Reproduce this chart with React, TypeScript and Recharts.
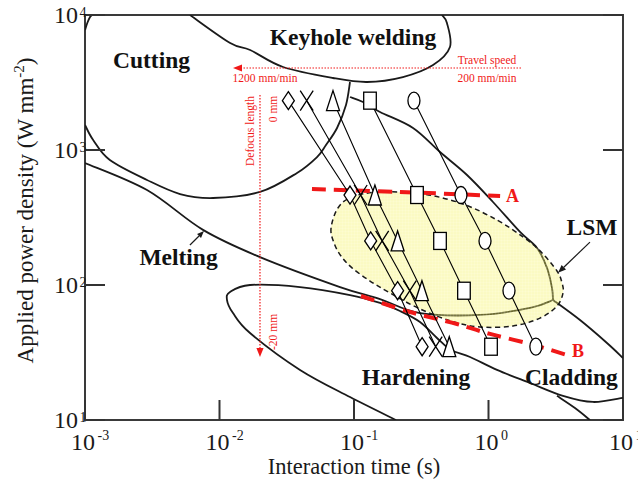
import React from "react";
import { ScatterChart, Scatter, XAxis, YAxis, ReferenceArea } from "recharts";

const SERIF = "'Liberation Serif', 'Times New Roman', Times, serif";
const INK = "#1a1a1a";
const RED = "#f01818";

// axis ticks (log decades)
const xTicks = [0.001, 0.01, 0.1, 1, 10];
const yTicks = [10, 100, 1000, 10000];

// measured points, rows = defocus 0 mm ... -20 mm
const powerDensity = [2320, 464, 212, 90.7, 34.9];
const diamondTime = [0.0325, 0.0934, 0.133, 0.211, 0.321];
const crossTime = [0.0445, 0.112, 0.162, 0.26, 0.405];
const triangleTime = [0.0698, 0.143, 0.211, 0.32, 0.511];
const squareTime = [0.1315, 0.294, 0.436, 0.657, 1.044];
const circleTime = [0.279, 0.624, 0.942, 1.42, 2.25];

type XY = [number, number];

// process region boundaries, [time, power density]
const keyholeBoundary: XY[] = [
  [0.00603, 10000], [0.012, 6203], [0.0169, 5503], [0.0297, 4119], [0.0698, 3415],
  [0.125, 3190], [0.231, 3473], [0.387, 4262], [0.517, 5794], [0.491, 8726], [0.451, 10000],
];
const cuttingBoundary: XY[] = [
  [0.001, 1532], [0.00115, 1186], [0.00153, 843], [0.00289, 600], [0.00509, 472],
  [0.00895, 441], [0.02, 489], [0.0377, 676], [0.0531, 887], [0.0619, 1089],
  [0.0748, 1456], [0.0872, 2154], [0.0934, 3190],
];
const cornerArc: XY[] = [[0.001, 7743], [0.00104, 8726], [0.00109, 9665], [0.00113, 10000]];
const meltingUpper: XY[] = [
  [0.0934, 2469], [0.1167, 2266], [0.1561, 1912], [0.2747, 1456], [0.436, 966],
  [0.692, 653], [1.08, 412], [1.715, 247], [2.294, 188], [2.722, 134], [2.966, 95], [3.017, 77.4],
];
const meltingLower: XY[] = [
  [3.017, 77.4], [2.035, 67.6], [0.865, 60.0], [0.3095, 62.0], [0.1561, 78.7],
  [0.0787, 96.6], [0.02, 161], [0.00754, 256], [0.00289, 505], [0.001, 801],
];
const claddingUpper: XY[] = [[3.017, 77.4], [4.79, 55.0], [7.6, 37.2], [10, 28.8]];
const hardeningBoundary: XY[] = [
  [0.2053, 10], [0.0934, 14.8], [0.0397, 23.5], [0.01686, 44.1], [0.0126, 62.0],
  [0.01137, 77.4], [0.01197, 88.7], [0.01686, 100], [0.0397, 96.6], [0.0934, 84.3],
  [0.1561, 73.6], [0.2198, 64.2], [0.3095, 53.2], [0.414, 40.5], [0.526, 33.0],
  [0.729, 29.3], [1.157, 23.5], [2.035, 18.8], [3.581, 15.1], [5.984, 13.6], [10, 14.6],
];
const claddingBranch: XY[] = [[3.231, 15.1], [4.396, 12.27], [5.682, 10]];
const lsmBoundary: XY[] = [
  [0.0675, 264], [0.071, 205], [0.08, 164], [0.0966, 134], [0.1315, 107], [0.1852, 87.3],
  [0.299, 67.6], [0.526, 54.1], [0.865, 48.9], [1.521, 49.7], [2.415, 56.9], [3.231, 69.9],
  [3.581, 87.3], [3.52, 103.5], [3.231, 127], [2.415, 179], [1.805, 227], [1.157, 303],
  [0.646, 398], [0.326, 472], [0.156, 489], [0.0966, 449], [0.076, 372],
];
const lineA: XY[] = [[0.0487, 514], [0.22, 489], [1.22, 456]];
const lineB: XY[] = [[0.1127, 82.9], [0.261, 63.1], [0.583, 51.4], [1.026, 43.4], [2.035, 36.6], [3.833, 30.3]];

// arrows
const travelSpeedArrow: XY[] = [[1.744, 4050], [0.0126, 4050]];
const defocusArrow: XY[] = [[0.02, 2555], [0.02, 29.3]];
const meltingPointer: XY[] = [[0.00603, 198], [0.00767, 251]];
const lsmPointer: XY[] = [[5.68, 208], [3.29, 123]];

// text annotations (anchor = baseline centre)
const regionLabels = [
  { x: 0.0983, y: 5995, text: "Keyhole welding" },
  { x: 0.00312, y: 4050, text: "Cutting" },
  { x: 0.00496, y: 141, text: "Melting" },
  { x: 0.289, y: 18.2, text: "Hardening" },
  { x: 4.14, y: 18.2, text: "Cladding" },
  { x: 5.88, y: 235, text: "LSM" },
];
const lineLabels = [
  { x: 1.508, y: 412, text: "A" },
  { x: 4.63, y: 29.3, text: "B" },
];
const speedNotes = [
  { x: 0.974, y: 4335, text: "Travel speed" },
  { x: 0.974, y: 3190, text: "200 mm/min" },
  { x: 0.0218, y: 3190, text: "1200 mm/min" },
];
const defocusNotes = [
  { x: 0.01805, y: 1382, text: "Defocus length" },
  { x: 0.02676, y: 2013, text: "0 mm" },
  { x: 0.02676, y: 44.9, text: "-20 mm" },
];

const toPts = (arr: XY[]) => arr.map(([x, y]) => ({ x, y }));
const series = (times: number[]) => times.map((x, i) => ({ x, y: powerDensity[i] }));

type P = { x: number; y: number };

// catmull-rom through the scaled points
function smooth(pts: P[], closed: boolean) {
  const n = pts.length;
  if (n < 2) return "";
  const get = (i: number) => (closed ? pts[(i + n) % n] : pts[Math.max(0, Math.min(n - 1, i))]);
  let d = `M${pts[0].x},${pts[0].y}`;
  const segs = closed ? n : n - 1;
  for (let i = 0; i < segs; i++) {
    const p0 = get(i - 1), p1 = get(i), p2 = get(i + 1), p3 = get(i + 2);
    const c1x = p1.x + (p2.x - p0.x) / 6, c1y = p1.y + (p2.y - p0.y) / 6;
    const c2x = p2.x - (p3.x - p1.x) / 6, c2y = p2.y - (p3.y - p1.y) / 6;
    d += ` C${c1x},${c1y} ${c2x},${c2y} ${p2.x},${p2.y}`;
  }
  return closed ? d + "Z" : d;
}

const curve = (stroke = INK, width = 1.8, dash?: string) => (props: any) => (
  <path d={smooth(props.points, false)} fill="none" stroke={stroke} strokeWidth={width} strokeDasharray={dash} />
);

const lsmOutline = (props: any) => (
  <g>
    <defs>
      <pattern id="lsmGrid" width="3" height="3" patternUnits="userSpaceOnUse">
        <rect width="3" height="3" fill="rgba(245,240,90,0.36)" />
        <path d="M0 0H3M0 0V3" stroke="rgba(255,255,255,0.3)" strokeWidth="0.7" />
      </pattern>
    </defs>
    <path d={smooth(props.points, true)} fill="url(#lsmGrid)" stroke={INK} strokeWidth={1.5} strokeDasharray="5 3.5" />
  </g>
);

const arrow = (stroke: string, width: number, dash: string | undefined, head: number) => (props: any) => {
  const pts: P[] = props.points;
  const a = pts[pts.length - 2], b = pts[pts.length - 1];
  const ang = Math.atan2(b.y - a.y, b.x - a.x);
  const hw = head * 0.4;
  const bx = b.x - head * Math.cos(ang), by = b.y - head * Math.sin(ang);
  const l = `${bx + hw * Math.sin(ang)},${by - hw * Math.cos(ang)}`;
  const r = `${bx - hw * Math.sin(ang)},${by + hw * Math.cos(ang)}`;
  return (
    <g>
      <path d={`M${a.x},${a.y} L${bx},${by}`} stroke={stroke} strokeWidth={width} strokeDasharray={dash} fill="none" />
      <polygon points={`${b.x},${b.y} ${l} ${r}`} fill={stroke} />
    </g>
  );
};

const none = () => <g />;

const marker = (kind: string) => (p: any) => {
  const { cx, cy } = p;
  const s = { fill: "#fff", stroke: "#000", strokeWidth: 1.3 };
  if (kind === "diamond")
    return <polygon {...s} points={`${cx},${cy - 9} ${cx + 6},${cy} ${cx},${cy + 9} ${cx - 6},${cy}`} />;
  if (kind === "cross")
    return (
      <path d={`M${cx - 6.5},${cy - 10}L${cx + 6.5},${cy + 10}M${cx + 6.5},${cy - 10}L${cx - 6.5},${cy + 10}`}
        stroke="#000" strokeWidth={1.3} fill="none" />
    );
  if (kind === "triangle")
    return <polygon {...s} points={`${cx},${cy - 10} ${cx + 6.5},${cy + 10} ${cx - 6.5},${cy + 10}`} />;
  if (kind === "square") return <rect {...s} x={cx - 6.3} y={cy - 8.5} width={12.6} height={17} />;
  return <ellipse {...s} cx={cx} cy={cy} rx={6} ry={8.5} />;
};

const textShape = (size: number, weight: string, color: string, rotate = false) => (p: any) => (
  <text
    x={p.cx}
    y={p.cy}
    textAnchor="middle"
    fontFamily={SERIF}
    fontSize={size}
    fontWeight={weight}
    fill={color}
    transform={rotate ? `rotate(-90 ${p.cx} ${p.cy})` : undefined}
  >
    {p.payload.text}
  </text>
);

const exp = (v: number) => String(Math.round(Math.log10(v)));

function XTick(props: any) {
  const { x, y, payload } = props;
  return (
    <g>
      <line x1={x} x2={x} y1={y} y2={y - 20} stroke="#333" strokeWidth={2} />
      <text x={x - 2} y={y + 30} textAnchor="middle" fontFamily={SERIF} fontSize={24} fill={INK}>10</text>
      <text x={x + 12.5} y={y + 20} fontFamily={SERIF} fontSize={14} fill={INK}>{exp(payload.value)}</text>
    </g>
  );
}

function YTick(props: any) {
  const { x, y, payload } = props;
  return (
    <g>
      <line x1={x} x2={x + 20} y1={y} y2={y} stroke="#333" strokeWidth={2} />
      <text x={x - 7} y={y + 8} textAnchor="end" fontFamily={SERIF} fontSize={24} fill={INK}>10</text>
      <text x={x - 5.5} y={y + 2} fontFamily={SERIF} fontSize={14} fill={INK}>{exp(payload.value)}</text>
    </g>
  );
}

function RightTick(props: any) {
  const { x, y } = props;
  return <line x1={x} x2={x - 20} y1={y} y2={y} stroke="#333" strokeWidth={2} />;
}

const xTitle = (props: any) => {
  const vb = props.viewBox;
  return (
    <text x={vb.x + vb.width / 2} y={vb.y + 54} textAnchor="middle" fontFamily={SERIF} fontSize={22.5} fill={INK}>
      Interaction time (s)
    </text>
  );
};

const yTitle = (props: any) => {
  const vb = props.viewBox;
  const cx = 33, cy = vb.y + vb.height / 2 - 7;
  return (
    <text x={cx} y={cy} textAnchor="middle" fontFamily={SERIF} fontSize={23} fill={INK} transform={`rotate(-90 ${cx} ${cy})`}>
      Applied power density (W mm
      <tspan dy={-9} fontSize={15}>-2</tspan>
      <tspan dy={9}>)</tspan>
    </text>
  );
};

export default function App() {
  return (
    <div style={{ position: "absolute", left: 0, top: 0, background: "#fff" }}>
      <ScatterChart width={638} height={483} margin={{ top: 15, right: 0, bottom: 0, left: 0 }}>
        <XAxis
          type="number" dataKey="x" scale="log" domain={[0.001, 10]} ticks={xTicks} interval={0}
          allowDataOverflow height={63} tickSize={0} tickMargin={0} axisLine={false} tickLine={false}
          tick={<XTick />} label={xTitle}
        />
        <YAxis
          type="number" dataKey="y" scale="log" domain={[10, 10000]} ticks={yTicks} interval={0}
          allowDataOverflow width={85} tickSize={0} tickMargin={0} axisLine={false} tickLine={false}
          tick={<YTick />} label={yTitle}
        />
        <YAxis
          yAxisId="r" orientation="right" type="number" dataKey="y" scale="log" domain={[10, 10000]}
          ticks={yTicks} interval={0} allowDataOverflow width={15} tickSize={0} tickMargin={0}
          axisLine={false} tickLine={false} tick={<RightTick />}
        />
        <ReferenceArea x1={0.001} x2={10} y1={10} y2={10000} fill="none" stroke="#3a3a3a" strokeWidth={2} />

        <Scatter data={toPts(keyholeBoundary)} shape={none} line={curve()} isAnimationActive={false} />
        <Scatter data={toPts(cuttingBoundary)} shape={none} line={curve()} isAnimationActive={false} />
        <Scatter data={toPts(cornerArc)} shape={none} line={curve()} isAnimationActive={false} />
        <Scatter data={toPts(meltingUpper)} shape={none} line={curve()} isAnimationActive={false} />
        <Scatter data={toPts(meltingLower)} shape={none} line={curve()} isAnimationActive={false} />
        <Scatter data={toPts(claddingUpper)} shape={none} line={curve()} isAnimationActive={false} />
        <Scatter data={toPts(hardeningBoundary)} shape={none} line={curve()} isAnimationActive={false} />
        <Scatter data={toPts(claddingBranch)} shape={none} line={curve()} isAnimationActive={false} />

        <Scatter data={toPts(lsmBoundary)} shape={none} line={lsmOutline} isAnimationActive={false} />

        <Scatter data={toPts(lineA)} shape={none} line={curve(RED, 4, "14 8")} isAnimationActive={false} />
        <Scatter data={toPts(lineB)} shape={none} line={curve(RED, 4, "14 8")} isAnimationActive={false} />

        <Scatter data={toPts(travelSpeedArrow)} shape={none} line={arrow(RED, 1.2, "1.5 1.5", 9)} isAnimationActive={false} />
        <Scatter data={toPts(defocusArrow)} shape={none} line={arrow(RED, 1.2, "1.5 1.5", 9)} isAnimationActive={false} />
        <Scatter data={toPts(meltingPointer)} shape={none} line={arrow(INK, 1.2, undefined, 7)} isAnimationActive={false} />
        <Scatter data={toPts(lsmPointer)} shape={none} line={arrow(INK, 1.2, undefined, 8)} isAnimationActive={false} />

        <Scatter data={series(diamondTime)} shape={marker("diamond")} line={{ stroke: "#000", strokeWidth: 1.1 }} isAnimationActive={false} />
        <Scatter data={series(crossTime)} shape={marker("cross")} line={{ stroke: "#000", strokeWidth: 1.1 }} isAnimationActive={false} />
        <Scatter data={series(triangleTime)} shape={marker("triangle")} line={{ stroke: "#000", strokeWidth: 1.1 }} isAnimationActive={false} />
        <Scatter data={series(squareTime)} shape={marker("square")} line={{ stroke: "#000", strokeWidth: 1.1 }} isAnimationActive={false} />
        <Scatter data={series(circleTime)} shape={marker("circle")} line={{ stroke: "#000", strokeWidth: 1.1 }} isAnimationActive={false} />

        <Scatter data={regionLabels} shape={textShape(23.5, "bold", "#111")} isAnimationActive={false} />
        <Scatter data={lineLabels} shape={textShape(18, "bold", RED)} isAnimationActive={false} />
        <Scatter data={speedNotes} shape={textShape(11.5, "normal", RED)} isAnimationActive={false} />
        <Scatter data={defocusNotes} shape={textShape(11.5, "normal", RED, true)} isAnimationActive={false} />
      </ScatterChart>
    </div>
  );
}
